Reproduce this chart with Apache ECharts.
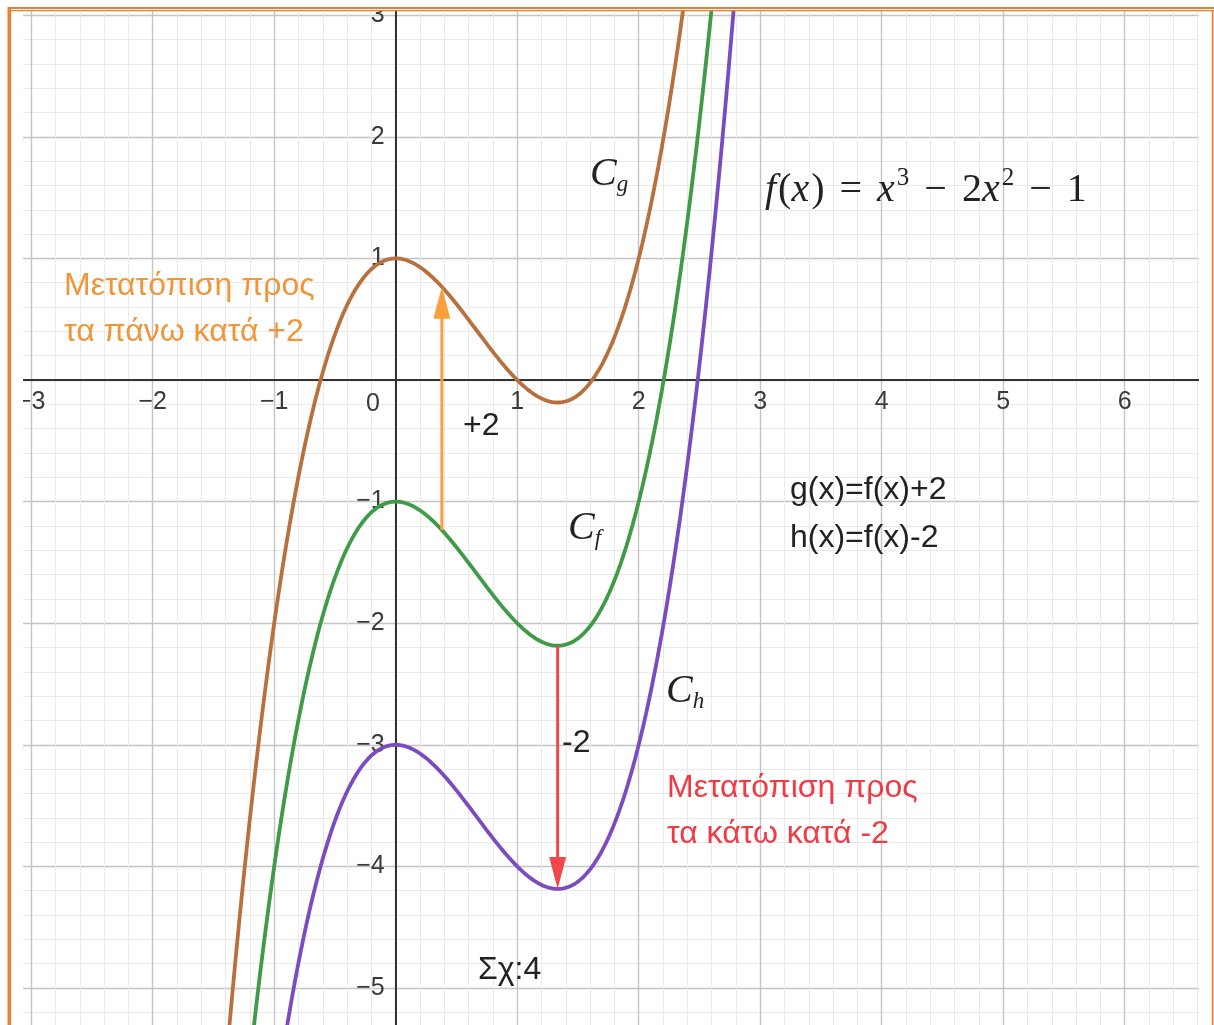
<!DOCTYPE html>
<html>
<head>
<meta charset="utf-8">
<script src="https://cdn.jsdelivr.net/npm/echarts@6/dist/echarts.min.js"></script>
<style>
  html, body { margin: 0; padding: 0; background: #ffffff; }
  #chart { width: 1214px; height: 1025px; }
</style>
</head>
<body>
<div id="chart"></div>
<script>
// f(x) = x^3 - 2x^2 - 1, coefficients from highest power down
const fCoefficients = [1, -2, 0, -1];
// vertical shifts: g(x) = f(x) + 2, f(x), h(x) = f(x) - 2
const curveNames = ['g', 'f', 'h'];
const curveShifts = [2, 0, -2];
const curveColors = ['#b9703f', '#3f9b47', '#7b4cc0'];
// where the shift arrows are drawn and by how much they move the curve
const arrowX = [0.38, 1.333];
const arrowShift = [2, -2];
const arrowColors = ['#f8a03c', '#f0484a'];
// visible sampling range of the curves
const sampleFrom = -1.8, sampleTo = 3.0, sampleStep = 0.01;

// plot geometry (pixels per unit and origin position)
const X_MIN = -4, X_MAX = 7, Y_MIN = -6, Y_MAX = 4;
const PX_X = 121.5, PX_Y = 121.6, ORIGIN_X = 395.7, ORIGIN_Y = 380;
const gridLeft = ORIGIN_X + X_MIN * PX_X;
const gridTop = ORIGIN_Y - Y_MAX * PX_Y;
const gridWidth = (X_MAX - X_MIN) * PX_X;
const gridHeight = (Y_MAX - Y_MIN) * PX_Y;

function f(x) {
  return fCoefficients.reduce((acc, c) => acc * x + c, 0);
}

const sampleXs = [];
for (let i = 0; sampleFrom + i * sampleStep <= sampleTo + 1e-9; i++) {
  sampleXs.push(+(sampleFrom + i * sampleStep).toFixed(4));
}

const curveSeries = curveNames.map((name, k) => ({
  name: name,
  type: 'line',
  showSymbol: false,
  silent: true,
  data: sampleXs.map(x => [x, f(x) + curveShifts[k]]),
  lineStyle: { color: curveColors[k], width: 3.8 },
  z: 3
}));

const arrowData = arrowX.map((x, k) => [x, f(x), f(x) + arrowShift[k], k]);

const arrowSeries = {
  type: 'custom',
  silent: true,
  data: arrowData,
  z: 4,
  renderItem: function (params, api) {
    const x = api.value(0);
    const p1 = api.coord([x, api.value(1)]);
    const p2 = api.coord([x, api.value(2)]);
    const color = arrowColors[api.value(3)];
    const dir = p2[1] > p1[1] ? 1 : -1;
    const headLen = 32, headHalf = 8.5;
    const baseY = p2[1] - dir * headLen;
    return {
      type: 'group',
      children: [
        { type: 'line', shape: { x1: p1[0], y1: p1[1], x2: p2[0], y2: baseY + dir * 2 },
          style: { stroke: color, lineWidth: 3 } },
        { type: 'polygon', shape: { points: [[p2[0], p2[1]], [p2[0] - headHalf, baseY], [p2[0] + headHalf, baseY]] },
          style: { fill: color } }
      ]
    };
  }
};

const SANS = '"Liberation Sans", Arial, sans-serif';
const SERIF = '"Liberation Serif", "DejaVu Serif", serif';
const minus = v => (v < 0 ? '\u2212' + Math.abs(v) : String(v));

function sansText(text, x, y, color, size) {
  return { type: 'text', x: x, y: y, z: 50,
    style: { text: text, fill: color, font: (size || 32) + 'px ' + SANS, textAlign: 'left', textVerticalAlign: 'middle' } };
}

function curveLabel(sub, x, y) {
  return { type: 'text', x: x, y: y, z: 50,
    style: {
      text: '{c|C}{s|' + sub + '}', textAlign: 'left', textVerticalAlign: 'middle',
      rich: {
        c: { fontFamily: SERIF, fontStyle: 'italic', fontSize: 40, fill: '#222', lineHeight: 44, verticalAlign: 'middle' },
        s: { fontFamily: SERIF, fontStyle: 'italic', fontSize: 23, fill: '#222', lineHeight: 44, verticalAlign: 'bottom' }
      }
    } };
}

const ORANGE = '#ED7D31';
const axisLabelStyle = { fontSize: 25, fontFamily: SANS, color: '#3a3a3a' };

const option = {
  animation: false,
  backgroundColor: '#ffffff',
  grid: { left: gridLeft, top: gridTop, width: gridWidth, height: gridHeight,
          containLabel: false, outerBoundsMode: 'none' },
  xAxis: {
    type: 'value', min: X_MIN, max: X_MAX, interval: 1,
    position: 'bottom',
    offset: -(gridTop + gridHeight - ORIGIN_Y),
    axisLine: { onZero: false, lineStyle: { color: '#333', width: 2 } },
    axisTick: { show: false },
    minorTick: { show: false, splitNumber: 5 },
    axisLabel: Object.assign({ margin: 10, formatter: v => (v === 0 ? '' : minus(v)) }, axisLabelStyle),
    splitLine: { show: true, lineStyle: { color: '#c4c4c4', width: 1.4 } },
    minorSplitLine: { show: true, lineStyle: { color: '#eaeaea', width: 1 } }
  },
  yAxis: {
    type: 'value', min: Y_MIN, max: Y_MAX, interval: 1,
    position: 'left',
    offset: -(ORIGIN_X - gridLeft),
    axisLine: { onZero: false, lineStyle: { color: '#333', width: 2 } },
    axisTick: { show: false },
    minorTick: { show: false, splitNumber: 5 },
    axisLabel: Object.assign({ margin: 11, formatter: v => (v === 0 ? '' : minus(v)) }, axisLabelStyle),
    splitLine: { show: true, lineStyle: { color: '#c4c4c4', width: 1.4 } },
    minorSplitLine: { show: true, lineStyle: { color: '#eaeaea', width: 1 } }
  },
  series: curveSeries.concat([arrowSeries]),
  graphic: {
    elements: [
      // origin label
      { type: 'text', x: 373, y: 404, z: 50,
        style: { text: '0', fill: '#3a3a3a', font: '25px ' + SANS, textAlign: 'center', textVerticalAlign: 'middle' } },
      // formula
      { type: 'text', x: 765, y: 190, z: 50,
        style: {
          text: '{i|f}{n|(}{i|x}{n|)}{op|=}{i|x}{s|3}{op|\u2212}{n|2}{i|x}{s|2}{op|\u2212}{n|1}',
          textAlign: 'left', textVerticalAlign: 'middle',
          rich: {
            i: { fontFamily: SERIF, fontStyle: 'italic', fontSize: 40, fill: '#222', lineHeight: 48, verticalAlign: 'middle', padding: [0, 2, 0, 0] },
            n: { fontFamily: SERIF, fontSize: 40, fill: '#222', lineHeight: 48, verticalAlign: 'middle' },
            op: { fontFamily: SERIF, fontSize: 40, fill: '#222', lineHeight: 48, verticalAlign: 'middle', padding: [0, 15, 0, 15] },
            s: { fontFamily: SERIF, fontSize: 25, fill: '#222', lineHeight: 48, verticalAlign: 'top' }
          }
        } },
      curveLabel('g', 590, 174),
      curveLabel('f', 568, 528),
      curveLabel('h', 666, 691),
      sansText('Μετατόπιση προς', 64, 286, '#f0963a'),
      sansText('τα πάνω κατά +2', 64, 332, '#f0963a'),
      sansText('+2', 463, 426, '#222'),
      sansText('g(x)=f(x)+2', 790, 490, '#222'),
      sansText('h(x)=f(x)-2', 790, 538, '#222'),
      sansText('-2', 562, 743, '#222'),
      sansText('Μετατόπιση προς', 667, 788, '#f03a45'),
      sansText('τα κάτω κατά -2', 667, 834, '#f03a45'),
      sansText('Σχ:4', 478, 970, '#222'),
      // white margins around the plot
      { type: 'rect', z: 90, shape: { x: 0, y: 0, width: 1214, height: 11 }, style: { fill: '#ffffff' } },
      { type: 'rect', z: 90, shape: { x: 0, y: 0, width: 23, height: 1025 }, style: { fill: '#ffffff' } },
      { type: 'rect', z: 90, shape: { x: 1199, y: 0, width: 15, height: 1025 }, style: { fill: '#ffffff' } },
      // frame
      { type: 'rect', z: 95, shape: { x: 8, y: 7, width: 1206, height: 2 }, style: { fill: ORANGE } },
      { type: 'rect', z: 95, shape: { x: 8, y: 10, width: 1206, height: 1.3 }, style: { fill: ORANGE } },
      { type: 'rect', z: 95, shape: { x: 7.5, y: 7, width: 3.6, height: 1018 }, style: { fill: ORANGE } },
      { type: 'rect', z: 95, shape: { x: 1211.8, y: 10, width: 1.7, height: 1015 }, style: { fill: ORANGE } }
    ]
  }
};

const chart = echarts.init(document.getElementById('chart'), null, { renderer: 'canvas' });
chart.setOption(option);
</script>
</body>
</html>
